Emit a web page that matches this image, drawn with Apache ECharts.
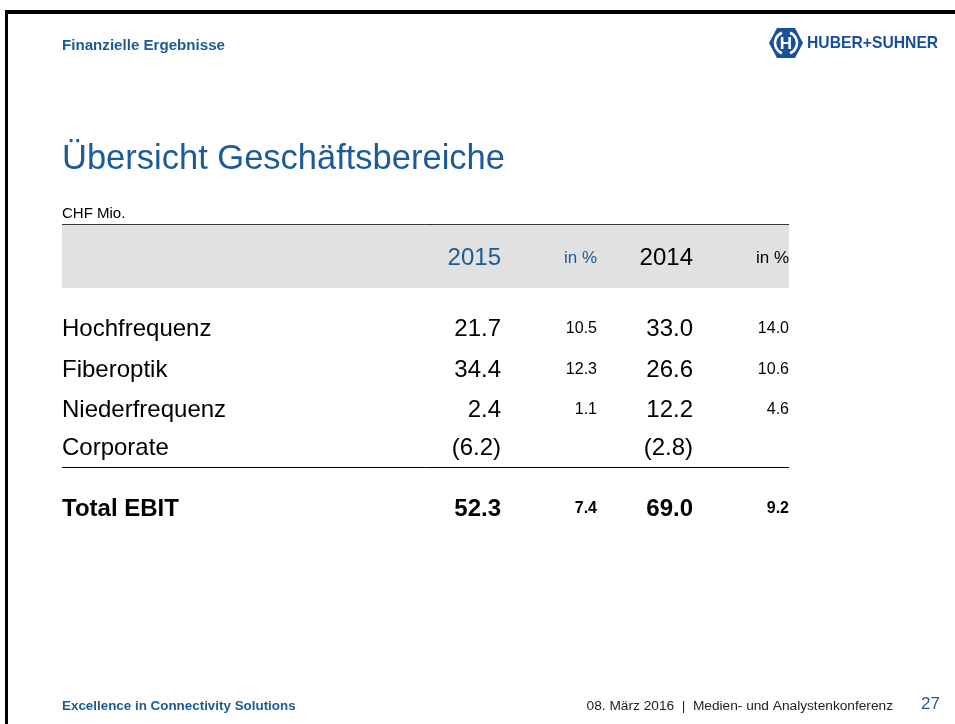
<!DOCTYPE html>
<html>
<head>
<meta charset="utf-8">
<style>
html,body{margin:0;padding:0;background:#fff;}
#main{width:955px;height:724px;}
</style>
<script src="https://cdn.jsdelivr.net/npm/echarts@6/dist/echarts.min.js"></script>
</head>
<body>
<div id="main"></div>
<script>
// ---- data ----
const sectionTitle = 'Finanzielle Ergebnisse';
const slideTitle = 'Übersicht Geschäftsbereiche';
const unitLabel = 'CHF Mio.';
const columnHeaders = ['2015', 'in %', '2014', 'in %'];
const categories = ['Hochfrequenz', 'Fiberoptik', 'Niederfrequenz', 'Corporate'];
const ebit2015 = [21.7, 34.4, 2.4, -6.2];
const pct2015 = [10.5, 12.3, 1.1, null];
const ebit2014 = [33.0, 26.6, 12.2, -2.8];
const pct2014 = [14.0, 10.6, 4.6, null];
const totalLabel = 'Total EBIT';
const total2015 = [52.3];
const totalPct2015 = [7.4];
const total2014 = [69.0];
const totalPct2014 = [9.2];
const footerLeft = 'Excellence in Connectivity Solutions';
const footerRight = '08. März 2016  |  Medien- und Analystenkonferenz';
const pageNumber = '27';
const logoText = 'HUBER+SUHNER';

// ---- layout / style ----
const FONT = '"Liberation Sans", Arial, Helvetica, sans-serif';
const BLUE = '#1b5b98';
const LOGO_BLUE = '#1a4f9a';
const LEFT = 62, RIGHT = 789;
const colRight = [501, 597, 693, 789];
const rowY = [329, 370, 410, 448];
const totalY = 509;
const BIG = 24, SMALL = 16;

function fmt(v) {
  if (v === null || v === undefined) return '';
  const s = Math.abs(v).toFixed(1);
  return v < 0 ? '(' + s + ')' : s;
}
function txt(x, y, text, size, opts) {
  opts = opts || {};
  return {
    type: 'text', x: x, y: y, silent: true,
    scaleX: opts.scaleX || 1,
    style: {
      text: text,
      fill: opts.color || '#000',
      font: (opts.bold ? 'bold ' : '') + size + 'px ' + FONT,
      textAlign: opts.align || 'left',
      textVerticalAlign: 'middle'
    }
  };
}

const els = [];
// slide border
els.push({type: 'rect', shape: {x: 5, y: 10, width: 950, height: 4}, style: {fill: '#000'}, silent: true});
els.push({type: 'rect', shape: {x: 5, y: 10, width: 3, height: 714}, style: {fill: '#000'}, silent: true});

// header
els.push(txt(62, 46, sectionTitle, 14, {bold: true, color: BLUE, scaleX: 1.08}));
// logo
els.push({type: 'polygon', shape: {points: [[769, 43], [777, 28], [795, 28], [803, 43], [795, 58], [777, 58]]}, style: {fill: LOGO_BLUE}, silent: true});
els.push({type: 'arc', shape: {cx: 786, cy: 43, r: 11, startAngle: Math.PI * 0.62, endAngle: Math.PI * 1.38}, style: {stroke: '#fff', lineWidth: 2.5, fill: null}, silent: true});
els.push({type: 'arc', shape: {cx: 786, cy: 43, r: 11, startAngle: -Math.PI * 0.38, endAngle: Math.PI * 0.38}, style: {stroke: '#fff', lineWidth: 2.5, fill: null}, silent: true});
els.push(txt(786, 44, 'H', 17, {bold: true, color: '#fff', align: 'center'}));
els.push(txt(807, 44, logoText, 15.7, {bold: true, color: LOGO_BLUE}));

// title
els.push(txt(62, 159, slideTitle, 34.5, {color: BLUE}));
els.push(txt(62, 214, unitLabel, 15, {color: '#000'}));

// table header band
els.push({type: 'line', shape: {x1: LEFT, y1: 224.5, x2: RIGHT, y2: 224.5}, style: {stroke: '#333', lineWidth: 1}, silent: true});
els.push({type: 'rect', shape: {x: LEFT, y: 225, width: RIGHT - LEFT, height: 63}, style: {fill: '#e1e1e1'}, silent: true});
const headColors = [BLUE, BLUE, '#000', '#000'];
const headSizes = [BIG, 17, BIG, 17];
columnHeaders.forEach(function (h, i) {
  els.push(txt(colRight[i], 258, h, headSizes[i], {color: headColors[i], align: 'right'}));
});

// rows
categories.forEach(function (c, r) {
  const y = rowY[r];
  els.push(txt(LEFT, y, c, BIG));
  els.push(txt(colRight[0], y, fmt(ebit2015[r]), BIG, {align: 'right'}));
  els.push(txt(colRight[1], y, fmt(pct2015[r]), SMALL, {align: 'right'}));
  els.push(txt(colRight[2], y, fmt(ebit2014[r]), BIG, {align: 'right'}));
  els.push(txt(colRight[3], y, fmt(pct2014[r]), SMALL, {align: 'right'}));
});
els.push({type: 'line', shape: {x1: LEFT, y1: 467.5, x2: RIGHT, y2: 467.5}, style: {stroke: '#000', lineWidth: 1}, silent: true});

// total
els.push(txt(LEFT, totalY, totalLabel, BIG, {bold: true}));
els.push(txt(colRight[0], totalY, fmt(total2015[0]), BIG, {bold: true, align: 'right'}));
els.push(txt(colRight[1], totalY, fmt(totalPct2015[0]), SMALL, {bold: true, align: 'right'}));
els.push(txt(colRight[2], totalY, fmt(total2014[0]), BIG, {bold: true, align: 'right'}));
els.push(txt(colRight[3], totalY, fmt(totalPct2014[0]), SMALL, {bold: true, align: 'right'}));

// footer
els.push(txt(62, 706, footerLeft, 13.4, {bold: true, color: BLUE}));
els.push(txt(893, 706, footerRight, 13.7, {color: '#222', align: 'right'}));
els.push(txt(940, 704, pageNumber, 17, {color: BLUE, align: 'right'}));

const chart = echarts.init(document.getElementById('main'), null, {renderer: 'canvas'});
chart.setOption({
  backgroundColor: '#fff',
  animation: false,
  graphic: {elements: els}
});
</script>
</body>
</html>
